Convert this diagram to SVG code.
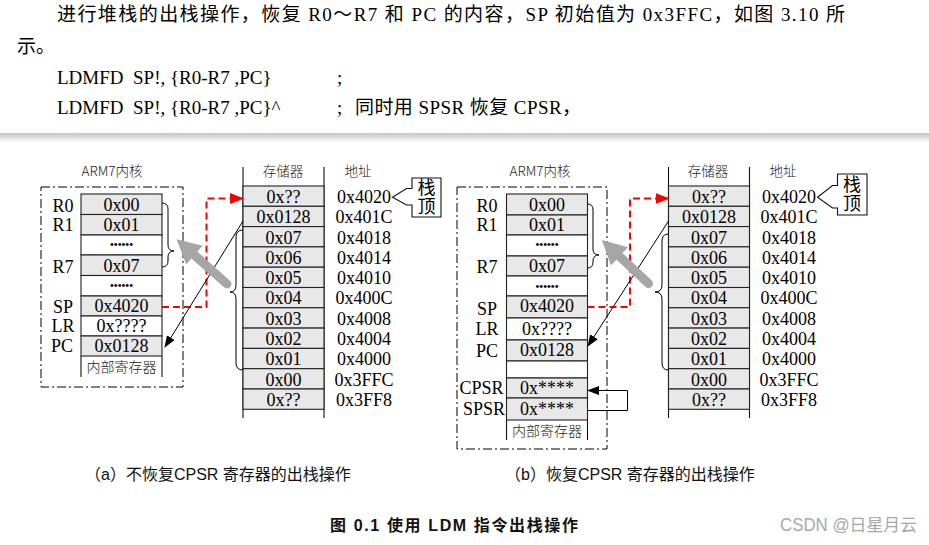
<svg xmlns="http://www.w3.org/2000/svg" width="929" height="545" viewBox="0 0 929 545">
<defs>
<linearGradient id="shadow" x1="0" y1="0" x2="0" y2="1">
<stop offset="0" stop-color="#c4c4c4"/>
<stop offset="1" stop-color="#ffffff"/>
</linearGradient>
<marker id="redHead" viewBox="0 -6 14 12" refX="13" refY="0" markerWidth="14" markerHeight="12" markerUnits="userSpaceOnUse" orient="auto"><path d="M0,-5.5 L14,0 L0,5.5 z" fill="#ff0000"/></marker>
<marker id="blkHead" viewBox="0 -5 12 10" refX="11" refY="0" markerWidth="12" markerHeight="10" markerUnits="userSpaceOnUse" orient="auto"><path d="M0,-4.5 L12,0 L0,4.5 z" fill="#000"/></marker>
<marker id="grayHead" viewBox="0 -13 24 26" refX="2" refY="0" markerWidth="24" markerHeight="26" markerUnits="userSpaceOnUse" orient="auto"><path d="M0,-12.5 L24,0 L0,12.5 z" fill="#a6a6a6"/></marker>
</defs>
<style>
.body{font-family:"Liberation Serif","Noto Sans CJK SC",serif;font-size:19px;fill:#000}
.cell{stroke:#222;stroke-width:1.1}
.g{fill:#e8e8e8}
.w{fill:#ffffff}
.v{font-family:"Liberation Serif","Noto Sans CJK SC",serif;font-size:18px;fill:#000;text-anchor:middle}
.lbl{font-family:"Liberation Serif",serif;font-size:18px;fill:#000;text-anchor:middle}
.hdr{font-family:"Noto Sans CJK SC","Liberation Serif",sans-serif;font-size:13.5px;font-weight:300;fill:#222;text-anchor:middle}
.cj{font-family:"Noto Sans CJK SC",sans-serif;font-size:14px;font-weight:300;fill:#222;text-anchor:middle}
.dots{font-family:"Liberation Serif",serif;font-size:11px;font-weight:bold;fill:#000;text-anchor:middle}
.dd{fill:none;stroke:#000;stroke-width:1;stroke-dasharray:9 3 2 3}
.ln{fill:none;stroke:#111;stroke-width:1.1}
.red{fill:none;stroke:#ff0000;stroke-width:2;stroke-dasharray:7 4;marker-end:url(#redHead)}
.blk{fill:none;stroke:#000;stroke-width:1;marker-end:url(#blkHead)}
.gray{fill:none;stroke:#a6a6a6;stroke-width:9;stroke-linecap:round;marker-end:url(#grayHead)}
.brace{fill:none;stroke:#000;stroke-width:1}
.cap{font-family:"Liberation Sans","Noto Sans CJK SC",sans-serif;font-size:16px;fill:#111}
.title{font-weight:bold}
.wm{fill:#a8a8a8;font-size:17.5px}
</style>
<rect width="929" height="545" fill="#fff"/>

<g id="header-text">
<text class="body" x="57" y="21" textLength="788" lengthAdjust="spacing">进行堆栈的出栈操作，恢复 R0～R7 和 PC 的内容，SP 初始值为 0x3FFC，如图 3.10 所</text>
<text class="body" x="17" y="53">示。</text>
<text class="body" x="57" y="84" xml:space="preserve">LDMFD  SP!, {R0-R7 ,PC}</text>
<text class="body" x="337" y="84">;</text>
<text class="body" x="57" y="114" xml:space="preserve">LDMFD  SP!, {R0-R7 ,PC}^</text>
<text class="body" x="337" y="114">;</text>
<text class="body" x="355" y="114" textLength="226" lengthAdjust="spacing">同时用 SPSR 恢复 CPSR，</text>
</g>
<rect id="page-break" x="0" y="133" width="929" height="10" fill="url(#shadow)"/>

<!-- ===== Diagram (a) ===== -->
<g id="a-core">
<text class="hdr" x="112" y="176">ARM7内核</text>
<rect class="dd" x="41" y="187" width="142" height="200"/>
</g>
<g id="a-registers">
<rect class="cell g" x="81" y="194" width="81" height="20.5"/>
<rect class="cell g" x="81" y="214.5" width="81" height="20.5"/>
<rect class="cell w" x="81" y="235" width="81" height="20"/>
<rect class="cell g" x="81" y="255" width="81" height="20.5"/>
<rect class="cell w" x="81" y="275.5" width="81" height="20.5"/>
<rect class="cell g" x="81" y="296" width="81" height="20"/>
<rect class="cell w" x="81" y="316" width="81" height="20"/>
<rect class="cell g" x="81" y="336" width="81" height="20"/>
<path class="ln" d="M81,356 V377 M162,356 V377"/>
<text class="v" x="121.5" y="211">0x00</text>
<text class="v" x="121.5" y="231">0x01</text>
<text class="dots" x="121.5" y="248">••••••</text>
<text class="v" x="121.5" y="272">0x07</text>
<text class="dots" x="121.5" y="289">••••••</text>
<text class="v" x="121.5" y="312">0x4020</text>
<text class="v" x="121.5" y="332">0x????</text>
<text class="v" x="121.5" y="352">0x0128</text>
<text class="cj" x="121.5" y="372">内部寄存器</text>
<text class="lbl" x="63" y="212">R0</text>
<text class="lbl" x="63" y="231">R1</text>
<text class="lbl" x="63" y="273">R7</text>
<text class="lbl" x="63" y="313">SP</text>
<text class="lbl" x="63" y="332">LR</text>
<text class="lbl" x="62" y="352">PC</text>
<path class="brace" d="M162,203 Q168,203 168,209 V245 Q168,251 174,251 Q168,251 168,257 V261 Q168,267 162,267"/>
</g>
<g id="a-memory">
<text class="hdr" x="283" y="176">存储器</text>
<text class="hdr" x="358" y="176">地址</text>
<path class="ln" d="M243,167 V418 M324,167 V418"/>
<rect class="cell g" x="243" y="186" width="81" height="20.3"/>
<rect class="cell g" x="243" y="206.3" width="81" height="20.3"/>
<rect class="cell g" x="243" y="226.6" width="81" height="20.3"/>
<rect class="cell g" x="243" y="246.9" width="81" height="20.3"/>
<rect class="cell g" x="243" y="267.2" width="81" height="20.3"/>
<rect class="cell g" x="243" y="287.5" width="81" height="20.3"/>
<rect class="cell g" x="243" y="307.8" width="81" height="20.3"/>
<rect class="cell g" x="243" y="328.1" width="81" height="20.3"/>
<rect class="cell g" x="243" y="348.4" width="81" height="20.3"/>
<rect class="cell g" x="243" y="368.7" width="81" height="20.3"/>
<rect class="cell g" x="243" y="389" width="81" height="20.3"/>
<text class="v" x="283.5" y="203">0x??</text>
<text class="v" x="283.5" y="223">0x0128</text>
<text class="v" x="283.5" y="243.5">0x07</text>
<text class="v" x="283.5" y="264">0x06</text>
<text class="v" x="283.5" y="284">0x05</text>
<text class="v" x="283.5" y="304">0x04</text>
<text class="v" x="283.5" y="324.5">0x03</text>
<text class="v" x="283.5" y="345">0x02</text>
<text class="v" x="283.5" y="365">0x01</text>
<text class="v" x="283.5" y="385.5">0x00</text>
<text class="v" x="283.5" y="405.5">0x??</text>
<text class="v" x="364" y="203">0x4020</text>
<text class="v" x="364" y="223">0x401C</text>
<text class="v" x="364" y="243.5">0x4018</text>
<text class="v" x="364" y="264">0x4014</text>
<text class="v" x="364" y="284">0x4010</text>
<text class="v" x="364" y="304">0x400C</text>
<text class="v" x="364" y="324.5">0x4008</text>
<text class="v" x="364" y="345">0x4004</text>
<text class="v" x="364" y="365">0x4000</text>
<text class="v" x="364" y="385.5">0x3FFC</text>
<text class="v" x="364" y="405.5">0x3FF8</text>
<path class="brace" d="M243,230 Q236,230 236,237 V285 Q236,292 230,292 Q236,292 236,299 V363 Q236,370 243,370"/>
</g>
<g id="a-stacktop">
<path class="ln" fill="#fff" d="M412,178 H441 V217 H412 V205 H406.5 L392.5,197.3 L406.5,188.5 H412 Z"/>
<text class="v" x="426.5" y="194">栈</text>
<text class="v" x="426.5" y="213">顶</text>
</g>

<!-- ===== Diagram (b) ===== -->
<g id="b-core">
<text class="hdr" x="540" y="176">ARM7内核</text>
<rect class="dd" x="457" y="187" width="150" height="262"/>
</g>
<g id="b-registers">
<rect class="cell g" x="506.5" y="194" width="81" height="21"/>
<rect class="cell g" x="506.5" y="215" width="81" height="20"/>
<rect class="cell w" x="506.5" y="235" width="81" height="21"/>
<rect class="cell g" x="506.5" y="256" width="81" height="20"/>
<rect class="cell w" x="506.5" y="276" width="81" height="20"/>
<rect class="cell g" x="506.5" y="296" width="81" height="22"/>
<rect class="cell w" x="506.5" y="318" width="81" height="22"/>
<rect class="cell g" x="506.5" y="340" width="81" height="21"/>
<rect class="cell w" x="506.5" y="361" width="81" height="17"/>
<rect class="cell g" x="506.5" y="378" width="81" height="20"/>
<rect class="cell g" x="506.5" y="398" width="81" height="22"/>
<path class="ln" d="M506.5,420 V440 M587.5,420 V440"/>
<text class="v" x="547" y="211">0x00</text>
<text class="v" x="547" y="231">0x01</text>
<text class="dots" x="547" y="248">••••••</text>
<text class="v" x="547" y="272">0x07</text>
<text class="dots" x="547" y="290">••••••</text>
<text class="v" x="547" y="312">0x4020</text>
<text class="v" x="547" y="335">0x????</text>
<text class="v" x="547" y="356">0x0128</text>
<text class="v" x="547" y="394">0x****</text>
<text class="v" x="547" y="415">0x****</text>
<text class="cj" x="547" y="436">内部寄存器</text>
<text class="lbl" x="487" y="212">R0</text>
<text class="lbl" x="487" y="231">R1</text>
<text class="lbl" x="487" y="273">R7</text>
<text class="lbl" x="487" y="315">SP</text>
<text class="lbl" x="487" y="335">LR</text>
<text class="lbl" x="487" y="357">PC</text>
<text class="lbl" x="481.5" y="394">CPSR</text>
<text class="lbl" x="484" y="415">SPSR</text>
<path class="brace" d="M587.5,204 Q593,204 593,210 V249 Q593,255 599,255 Q593,255 593,261 V262 Q593,268 587.5,268"/>
</g>
<g id="b-memory">
<text class="hdr" x="708" y="176">存储器</text>
<text class="hdr" x="783" y="176">地址</text>
<path class="ln" d="M668.5,167 V418 M749.5,167 V418"/>
<rect class="cell g" x="668.5" y="186" width="81" height="20.3"/>
<rect class="cell g" x="668.5" y="206.3" width="81" height="20.3"/>
<rect class="cell g" x="668.5" y="226.6" width="81" height="20.3"/>
<rect class="cell g" x="668.5" y="246.9" width="81" height="20.3"/>
<rect class="cell g" x="668.5" y="267.2" width="81" height="20.3"/>
<rect class="cell g" x="668.5" y="287.5" width="81" height="20.3"/>
<rect class="cell g" x="668.5" y="307.8" width="81" height="20.3"/>
<rect class="cell g" x="668.5" y="328.1" width="81" height="20.3"/>
<rect class="cell g" x="668.5" y="348.4" width="81" height="20.3"/>
<rect class="cell g" x="668.5" y="368.7" width="81" height="20.3"/>
<rect class="cell g" x="668.5" y="389" width="81" height="20.3"/>
<text class="v" x="709" y="203">0x??</text>
<text class="v" x="709" y="223">0x0128</text>
<text class="v" x="709" y="243.5">0x07</text>
<text class="v" x="709" y="264">0x06</text>
<text class="v" x="709" y="284">0x05</text>
<text class="v" x="709" y="304">0x04</text>
<text class="v" x="709" y="324.5">0x03</text>
<text class="v" x="709" y="345">0x02</text>
<text class="v" x="709" y="365">0x01</text>
<text class="v" x="709" y="385.5">0x00</text>
<text class="v" x="709" y="405.5">0x??</text>
<text class="v" x="789" y="203">0x4020</text>
<text class="v" x="789" y="223">0x401C</text>
<text class="v" x="789" y="243.5">0x4018</text>
<text class="v" x="789" y="264">0x4014</text>
<text class="v" x="789" y="284">0x4010</text>
<text class="v" x="789" y="304">0x400C</text>
<text class="v" x="789" y="324.5">0x4008</text>
<text class="v" x="789" y="345">0x4004</text>
<text class="v" x="789" y="365">0x4000</text>
<text class="v" x="789" y="385.5">0x3FFC</text>
<text class="v" x="789" y="405.5">0x3FF8</text>
<path class="brace" d="M668.5,234 Q662,234 662,241 V285 Q662,292 655,292 Q662,292 662,299 V363 Q662,370 668.5,370"/>
</g>
<g id="b-stacktop">
<path class="ln" fill="#fff" d="M837.5,174 H867 V215 H837.5 V208 H832.5 L817.5,197.3 L832.5,185.5 H837.5 Z"/>
<text class="v" x="852" y="191">栈</text>
<text class="v" x="852" y="210">顶</text>
</g>

<g id="connectors">
<path class="red" d="M162,307 H206.5 V198.5 H243"/>
<path class="blk" d="M243,221 L165,347"/>
<path class="gray" d="M227,284 L193,253.8"/>
<path class="red" d="M587.5,307 H630 V198.5 H668.5"/>
<path class="blk" d="M668.5,221 L588,346"/>
<path class="gray" d="M648.5,283.5 L618,255"/>
<path class="blk" d="M587.5,410.5 H627.5 V390.5 H588"/>
</g>

<g id="captions">
<text class="cap" x="85" y="480">（a）不恢复CPSR 寄存器的出栈操作</text>
<text class="cap" x="505" y="480">（b）恢复CPSR 寄存器的出栈操作</text>
<text class="cap title" x="330" y="531" textLength="248" lengthAdjust="spacing">图 0.1 使用 LDM 指令出栈操作</text>
<text class="cap wm" x="780" y="531" textLength="137" lengthAdjust="spacingAndGlyphs">CSDN @日星月云</text>
</g>
</svg>
